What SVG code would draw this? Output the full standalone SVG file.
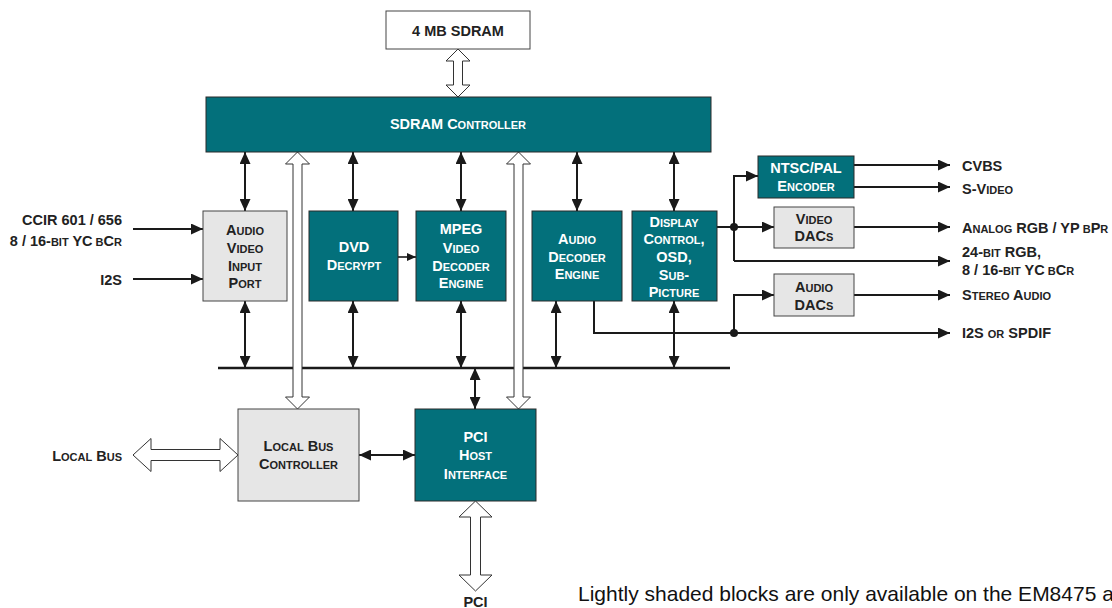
<svg xmlns="http://www.w3.org/2000/svg" width="1112" height="608" viewBox="0 0 1112 608">
<style>
.t{font-family:"Liberation Sans",Arial,Helvetica,sans-serif;font-weight:bold;font-size:14.5px;fill:#222}
.w{fill:#fff}
.s{font-size:11px}
.m{text-anchor:middle}
.e{text-anchor:end}
.teal{fill:#03707b;stroke:#2a2a2a;stroke-width:1}
.gray{fill:#e6e6e6;stroke:#444;stroke-width:1}
.white{fill:#fff;stroke:#444;stroke-width:1}
.ln{fill:none;stroke:#1a1a1a;stroke-width:2}
.da{fill:none;stroke:#1a1a1a;stroke-width:2;marker-start:url(#ah);marker-end:url(#ah)}
.sa{fill:none;stroke:#1a1a1a;stroke-width:2;marker-end:url(#ah)}
.ha{fill:#fff;stroke:#333;stroke-width:1}
.note{font-family:"Liberation Sans",Arial,Helvetica,sans-serif;font-size:21px;fill:#111}
</style>
<defs>
<marker id="ah" viewBox="0 0 12 11" refX="12" refY="5.5" markerWidth="12" markerHeight="11" markerUnits="userSpaceOnUse" orient="auto-start-reverse">
<path d="M0,0 L12,5.5 L0,11 z" fill="#1a1a1a"/>
</marker>
<marker id="ahs" viewBox="0 0 9 8" refX="9" refY="4" markerWidth="9" markerHeight="8" markerUnits="userSpaceOnUse" orient="auto">
<path d="M0,0 L9,4 L0,8 z" fill="#1a1a1a"/>
</marker>
</defs>
<rect width="1112" height="608" fill="#fff"/>

<g id="connectors">
<!-- bus -->
<line x1="218" y1="368" x2="730" y2="368" stroke="#1a1a1a" stroke-width="2.5"/>
<!-- controller to blocks -->
<line class="da" x1="245" y1="152" x2="245" y2="211"/>
<line class="da" x1="353" y1="152" x2="353" y2="211"/>
<line class="da" x1="461" y1="152" x2="461" y2="211"/>
<line class="da" x1="577" y1="152" x2="577" y2="211"/>
<line class="da" x1="674" y1="152" x2="674" y2="211"/>
<!-- blocks to bus -->
<line class="da" x1="245" y1="301" x2="245" y2="368"/>
<line class="da" x1="353" y1="301" x2="353" y2="368"/>
<line class="da" x1="461" y1="301" x2="461" y2="368"/>
<line class="da" x1="556" y1="301" x2="556" y2="368"/>
<line class="da" x1="674" y1="301" x2="674" y2="368"/>
<line class="da" x1="475" y1="368" x2="475" y2="409"/>
<!-- DVD to MPEG -->
<line x1="398" y1="257" x2="416" y2="257" stroke="#1a1a1a" stroke-width="1.6" marker-end="url(#ahs)"/>
<!-- inputs -->
<line class="sa" x1="133" y1="229" x2="203" y2="229"/>
<line class="sa" x1="133" y1="279" x2="203" y2="279"/>
<!-- LBC to PCI -->
<line class="da" x1="359" y1="455" x2="415" y2="455"/>
<!-- display outputs -->
<path class="ln" d="M717,227 H734"/>
<path class="sa" d="M734,261 V176 H758"/>
<line class="sa" x1="734" y1="227" x2="774" y2="227"/>
<line class="sa" x1="734" y1="261" x2="950" y2="261"/>
<circle cx="734" cy="227" r="4" fill="#1a1a1a"/>
<!-- encoder outputs -->
<line class="sa" x1="854" y1="165" x2="950" y2="165"/>
<line class="sa" x1="854" y1="187" x2="950" y2="187"/>
<line class="sa" x1="854" y1="227" x2="950" y2="227"/>
<!-- audio path -->
<path class="sa" d="M594,301 V333 H950"/>
<path class="sa" d="M734,333 V295 H774"/>
<circle cx="734" cy="333" r="4" fill="#1a1a1a"/>
<line class="sa" x1="854" y1="295" x2="950" y2="295"/>
<!-- hollow arrows -->
<polygon class="ha" points="458,49 470,61 462.5,61 462.5,85 470,85 458,97 446,85 453.5,85 453.5,61 446,61"/>
<polygon class="ha" points="297.5,152 309.5,164 302,164 302,397 309.5,397 297.5,409 285.5,397 293,397 293,164 285.5,164"/>
<polygon class="ha" points="518.5,152 530.5,164 523,164 523,397 530.5,397 518.5,409 506.5,397 514,397 514,164 506.5,164"/>
<polygon class="ha" points="133,455 151,438.5 151,449.5 220,449.5 220,438.5 238,455 220,471.5 220,460.5 151,460.5 151,471.5"/>
<polygon class="ha" points="475.5,501 492,517 480.5,517 480.5,575 492,575 475.5,591 459,575 470.5,575 470.5,517 459,517"/>
</g>

<g id="sdram">
<rect class="white" x="386" y="11" width="144" height="38"/>
<text class="t m" x="458" y="36">4 MB SDRAM</text>
</g>
<g id="sdram-controller">
<rect class="teal" x="206" y="97" width="505" height="55"/>
<text class="t w m" x="458" y="129">SDRAM C<tspan class="s">ONTROLLER</tspan></text>
</g>
<g id="av-input-port">
<rect class="gray" x="203" y="211" width="84" height="90"/>
<text class="t m" x="245" y="235">A<tspan class="s">UDIO</tspan></text>
<text class="t m" x="245" y="253">V<tspan class="s">IDEO</tspan></text>
<text class="t m" x="245" y="270.5">I<tspan class="s">NPUT</tspan></text>
<text class="t m" x="245" y="288">P<tspan class="s">ORT</tspan></text>
</g>
<g id="dvd-decrypt">
<rect class="teal" x="309" y="211" width="89" height="90"/>
<text class="t w m" x="354" y="252">DVD</text>
<text class="t w m" x="354" y="270">D<tspan class="s">ECRYPT</tspan></text>
</g>
<g id="mpeg-decoder">
<rect class="teal" x="416" y="211" width="90" height="90"/>
<text class="t w m" x="461" y="234">MPEG</text>
<text class="t w m" x="461" y="252.5">V<tspan class="s">IDEO</tspan></text>
<text class="t w m" x="461" y="270.5">D<tspan class="s">ECODER</tspan></text>
<text class="t w m" x="461" y="288">E<tspan class="s">NGINE</tspan></text>
</g>
<g id="audio-decoder">
<rect class="teal" x="532" y="211" width="90" height="90"/>
<text class="t w m" x="577" y="243.5">A<tspan class="s">UDIO</tspan></text>
<text class="t w m" x="577" y="261.5">D<tspan class="s">ECODER</tspan></text>
<text class="t w m" x="577" y="279">E<tspan class="s">NGINE</tspan></text>
</g>
<g id="display-control">
<rect class="teal" x="632" y="211" width="85" height="90"/>
<text class="t w m" x="674" y="226.5">D<tspan class="s">ISPLAY</tspan></text>
<text class="t w m" x="674" y="244">C<tspan class="s">ONTROL</tspan>,</text>
<text class="t w m" x="674" y="262">OSD,</text>
<text class="t w m" x="674" y="279.5">S<tspan class="s">UB</tspan>-</text>
<text class="t w m" x="674" y="296.5">P<tspan class="s">ICTURE</tspan></text>
</g>
<g id="ntsc-encoder">
<rect class="teal" x="758" y="156" width="96" height="42"/>
<text class="t w m" x="806" y="173">NTSC/PAL</text>
<text class="t w m" x="806" y="191">E<tspan class="s">NCODER</tspan></text>
</g>
<g id="video-dacs">
<rect class="gray" x="774" y="207" width="80" height="41"/>
<text class="t m" x="814" y="223.5">V<tspan class="s">IDEO</tspan></text>
<text class="t m" x="814" y="241">DAC<tspan class="s">S</tspan></text>
</g>
<g id="audio-dacs">
<rect class="gray" x="774" y="274" width="80" height="42"/>
<text class="t m" x="814" y="292">A<tspan class="s">UDIO</tspan></text>
<text class="t m" x="814" y="309.5">DAC<tspan class="s">S</tspan></text>
</g>
<g id="local-bus-controller">
<rect class="gray" x="238" y="409" width="121" height="92"/>
<text class="t m" x="298.5" y="451">L<tspan class="s">OCAL</tspan> B<tspan class="s">US</tspan></text>
<text class="t m" x="298.5" y="469">C<tspan class="s">ONTROLLER</tspan></text>
</g>
<g id="pci-host">
<rect class="teal" x="415" y="409" width="121" height="92"/>
<text class="t w m" x="475.5" y="442">PCI</text>
<text class="t w m" x="475.5" y="460">H<tspan class="s">OST</tspan></text>
<text class="t w m" x="475.5" y="479">I<tspan class="s">NTERFACE</tspan></text>
</g>

<g id="labels">
<text class="t e" x="122" y="225">CCIR 601 / 656</text>
<text class="t e" x="122" y="246">8 / 16-<tspan class="s">BIT</tspan> YC<tspan class="s"> B</tspan>C<tspan class="s">R</tspan></text>
<text class="t e" x="122" y="285">I2S</text>
<text class="t e" x="122" y="460.5">L<tspan class="s">OCAL</tspan> B<tspan class="s">US</tspan></text>
<text class="t m" x="475.5" y="607">PCI</text>
<text class="t" x="962" y="170.5">CVBS</text>
<text class="t" x="962" y="194">S-V<tspan class="s">IDEO</tspan></text>
<text class="t" x="962" y="232.5">A<tspan class="s">NALOG</tspan> RGB / YP<tspan class="s"> B</tspan>P<tspan class="s">R</tspan></text>
<text class="t" x="962" y="257">24-<tspan class="s">BIT</tspan> RGB,</text>
<text class="t" x="962" y="275">8 / 16-<tspan class="s">BIT</tspan> YC<tspan class="s"> B</tspan>C<tspan class="s">R</tspan></text>
<text class="t" x="962" y="299.5">S<tspan class="s">TEREO</tspan> A<tspan class="s">UDIO</tspan></text>
<text class="t" x="962" y="338">I2S <tspan class="s">OR</tspan> SPDIF</text>
<text class="note" x="578" y="601">Lightly shaded blocks are only available on the EM8475 a</text>
</g>
</svg>
